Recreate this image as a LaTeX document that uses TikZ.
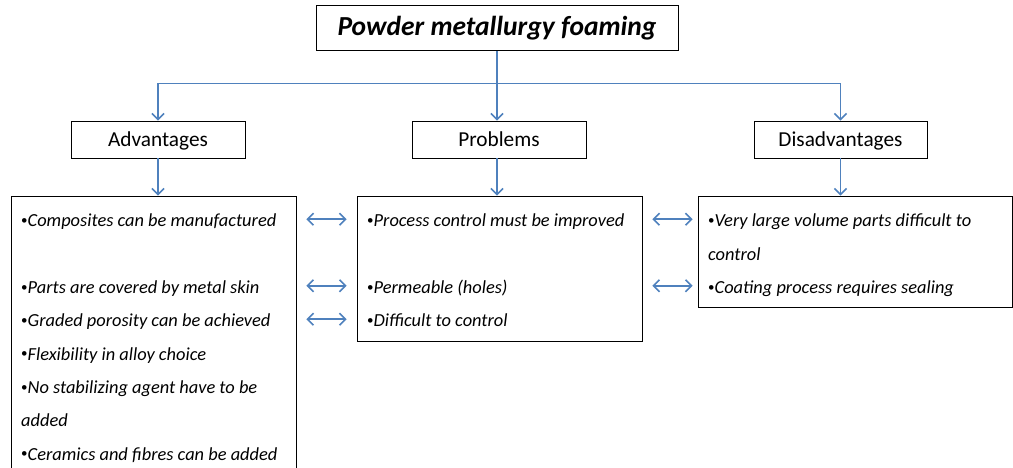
\documentclass[tikz,border=0pt]{standalone}
\usepackage{fontspec}
\setmainfont{Carlito}
\usetikzlibrary{arrows.meta,positioning}

\definecolor{linkblue}{RGB}{79,129,189}
\newcommand{\dotmark}{\raisebox{2.2pt}{\upshape\fontsize{13}{13}\selectfont\textbullet}}

\begin{document}
\begin{tikzpicture}[
  x=1pt,y=1pt,
  >={Straight Barb[length=6pt,width=12pt]},
  topic/.style={draw,line width=1pt,minimum width=362pt,minimum height=45pt,
    font=\fontsize{27.5}{32}\selectfont\bfseries\itshape},
  head/.style={draw,line width=0.8pt,minimum height=37pt,
    text height=15pt,text depth=0.6pt,font=\fontsize{21.3}{25}\selectfont},
  listbox/.style={draw,line width=0.8pt},
  item/.style={anchor=base west,inner sep=0pt,
    font=\fontsize{18.4}{22}\selectfont\itshape},
  link/.style={->,linkblue,line width=1.6pt},
  pair/.style={<->,linkblue,line width=1.6pt}
]
  \useasboundingbox (0,0) rectangle (1013,-468);
  \clip (0,0) rectangle (1013,-468);

  % top and the three headings
  \node[topic] (title) at (497,-28.5) {Powder metallurgy foaming};
  \node[head,minimum width=174pt] (adv) at (158,-139.5) {Advantages};
  \node[head,minimum width=174pt] (prob) at (499,-139.5) {Problems};
  \node[head,minimum width=173pt] (dis) at (840.5,-139.5) {Disadvantages};

  % list boxes
  \node[listbox,minimum width=285pt,minimum height=284pt] (advbox) at (153.5,-338) {};
  \node[listbox,minimum width=285pt,minimum height=145pt] (probbox) at (499.5,-268.5) {};
  \node[listbox,minimum width=314pt,minimum height=111pt] (disbox) at (855,-251.5) {};

  % entries
  \node[item] (a1) at (21,-226.7) {\dotmark Composites can be manufactured};
  \node[item] (a2) at (21,-293.3) {\dotmark Parts are covered by metal skin};
  \node[item] (a3) at (21,-326.7) {\dotmark Graded porosity can be achieved};
  \node[item] (a4) at (21,-360) {\dotmark Flexibility in alloy choice};
  \node[item] (a5) at (21,-393.3) {\dotmark No stabilizing agent have to be};
  \node[item] (a6) at (21,-426.7) {added};
  \node[item] (a7) at (21,-460) {\dotmark Ceramics and fibres can be added};

  \node[item] (p1) at (367,-226.7) {\dotmark Process control must be improved};
  \node[item] (p2) at (367,-293.3) {\dotmark Permeable (holes)};
  \node[item] (p3) at (367,-326.7) {\dotmark Difficult to control};

  \node[item] (d1) at (708,-226.7) {\dotmark Very large volume parts difficult to};
  \node[item] (d2) at (708,-260) {control};
  \node[item] (d3) at (708,-293.3) {\dotmark Coating process requires sealing};

  % tree
  \coordinate (split) at (497,-83.7);
  \draw[link] (title.south) -- (title.south |- prob.north);
  \draw[link] (split) -| (adv.north);
  \draw[link] (split) -| (dis.north);
  \draw[link] (adv.south) -- (adv.south |- advbox.north);
  \draw[link] ([xshift=-2pt]prob.south) -- ([xshift=-2pt]prob.south |- probbox.north);
  \draw[link] (dis.south) -- (dis.south |- disbox.north);

  % cross links
  \draw[pair] ([shift={(10,7.5)}]advbox.east |- a1.base) -- ([shift={(-10,7.5)}]probbox.west |- a1.base);
  \draw[pair] ([shift={(10,7.5)}]advbox.east |- a2.base) -- ([shift={(-10,7.5)}]probbox.west |- a2.base);
  \draw[pair] ([shift={(10,7.5)}]advbox.east |- a3.base) -- ([shift={(-10,7.5)}]probbox.west |- a3.base);
  \draw[pair] ([shift={(10,7.5)}]probbox.east |- p1.base) -- ([shift={(-5,7.5)}]disbox.west |- p1.base);
  \draw[pair] ([shift={(10,7.5)}]probbox.east |- p2.base) -- ([shift={(-5,7.5)}]disbox.west |- p2.base);
\end{tikzpicture}
\end{document}
